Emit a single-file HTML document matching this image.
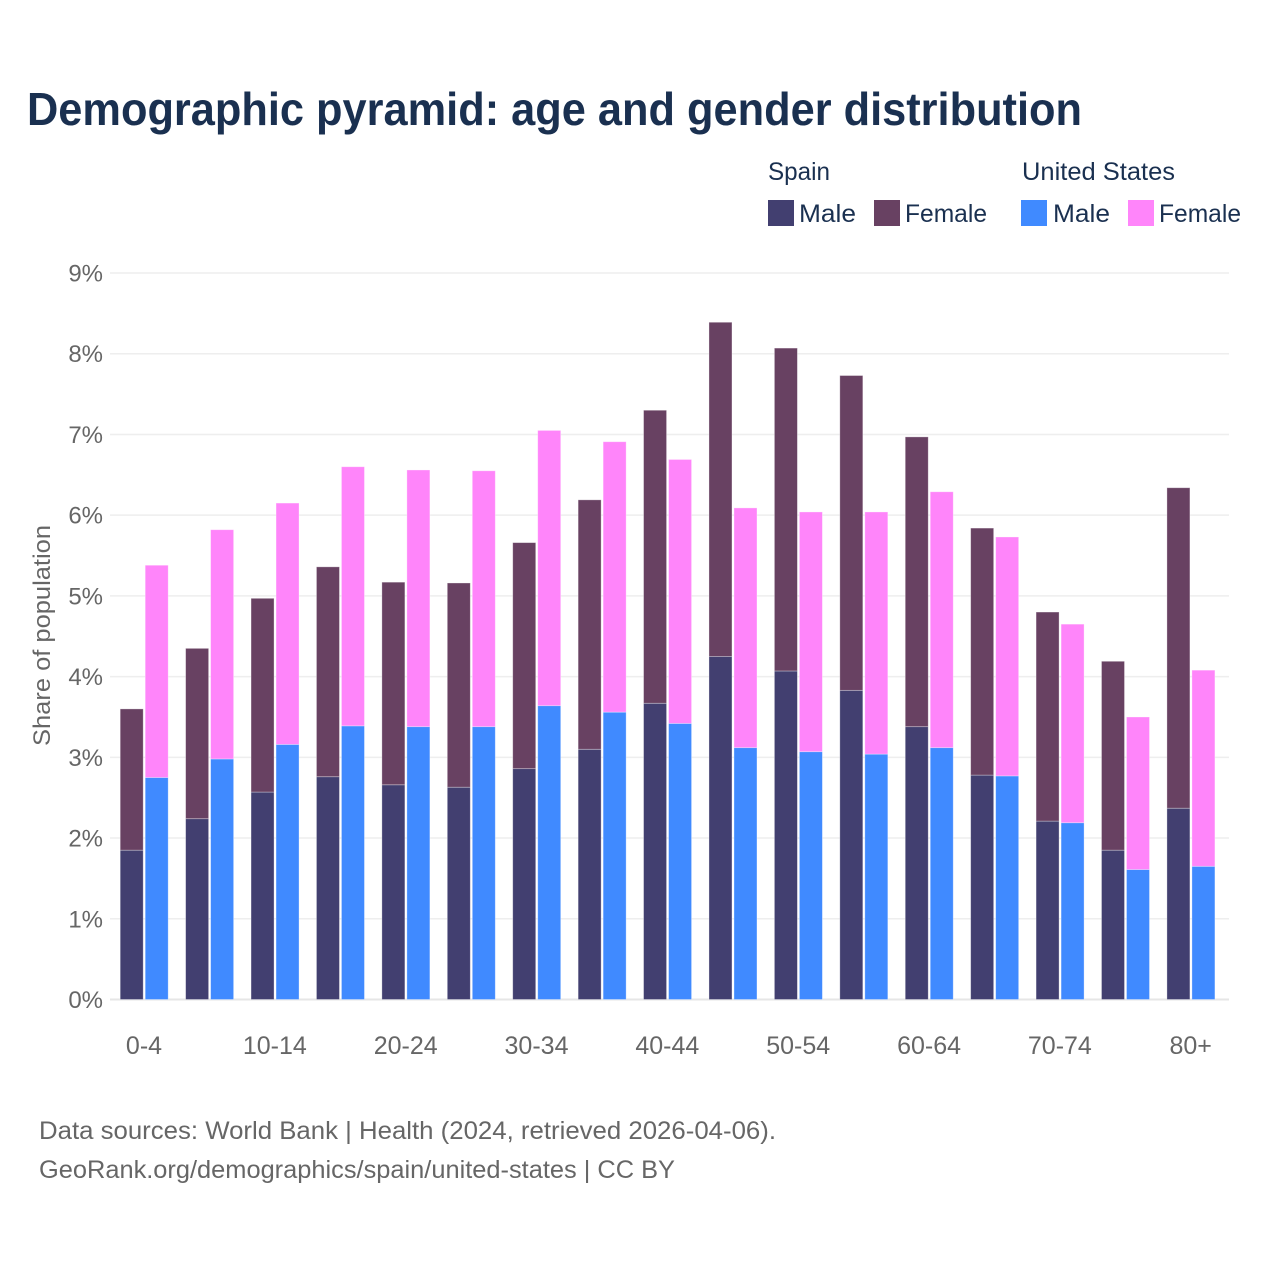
<!DOCTYPE html>
<html lang="en">
<head>
<meta charset="utf-8">
<title>Demographic pyramid</title>
<style>
html,body{margin:0;padding:0;background:#fff;width:1280px;height:1280px;overflow:hidden}
svg{display:block}
text{font-family:"Liberation Sans",sans-serif}
</style>
</head>
<body>
<svg id="chart" xmlns="http://www.w3.org/2000/svg" width="1280" height="1280" viewBox="0 0 1280 1280">
  <rect width="1280" height="1280" fill="#ffffff"/>
  <text x="27" y="125" font-size="46" font-weight="700" fill="#1a3050" textLength="1055" lengthAdjust="spacingAndGlyphs">Demographic pyramid: age and gender distribution</text>

  <g font-size="25" fill="#1a3050">
    <text x="768" y="180" textLength="62" lengthAdjust="spacingAndGlyphs">Spain</text>
    <text x="1022" y="180" textLength="153" lengthAdjust="spacingAndGlyphs">United States</text>
    <rect x="768" y="200" width="26" height="26" fill="#423f70"/>
    <text x="799" y="222" textLength="57" lengthAdjust="spacingAndGlyphs">Male</text>
    <rect x="874" y="200" width="26" height="26" fill="#684162"/>
    <text x="905" y="222" textLength="82" lengthAdjust="spacingAndGlyphs">Female</text>
    <rect x="1021" y="200" width="26" height="26" fill="#408aff"/>
    <text x="1053" y="222" textLength="57" lengthAdjust="spacingAndGlyphs">Male</text>
    <rect x="1128" y="200" width="26" height="26" fill="#ff85fa"/>
    <text x="1159" y="222" textLength="82" lengthAdjust="spacingAndGlyphs">Female</text>
  </g>

  <g id="grid"></g>
  <g id="yticks" font-size="24" fill="#666666" text-anchor="end"></g>
  <g id="bars"></g>
  <g id="xticks" font-size="25" fill="#666666" text-anchor="middle"></g>

  <text transform="translate(50,635.5) rotate(-90)" text-anchor="middle" font-size="24" fill="#666666" textLength="221" lengthAdjust="spacingAndGlyphs">Share of population</text>

  <text x="39" y="1139" font-size="25" fill="#666666" textLength="737" lengthAdjust="spacingAndGlyphs">Data sources: World Bank | Health (2024, retrieved 2026-04-06).</text>
  <text x="39" y="1178" font-size="25" fill="#666666" textLength="636" lengthAdjust="spacingAndGlyphs">GeoRank.org/demographics/spain/united-states | CC BY</text>
</svg>
<script>
const categories = ["0-4","5-9","10-14","15-19","20-24","25-29","30-34","35-39","40-44","45-49","50-54","55-59","60-64","65-69","70-74","75-79","80+"];
const spainMale = [1.85,2.24,2.57,2.76,2.66,2.63,2.86,3.10,3.67,4.25,4.07,3.83,3.38,2.78,2.21,1.85,2.37];
const spainFemale = [1.75,2.11,2.40,2.60,2.51,2.53,2.80,3.09,3.63,4.14,4.00,3.90,3.59,3.06,2.59,2.34,3.97];
const usMale = [2.75,2.98,3.16,3.39,3.38,3.38,3.64,3.56,3.42,3.12,3.07,3.04,3.12,2.77,2.19,1.61,1.65];
const usFemale = [2.63,2.84,2.99,3.21,3.18,3.17,3.41,3.35,3.27,2.97,2.97,3.00,3.17,2.96,2.46,1.89,2.43];
const yTickValues = [0,1,2,3,4,5,6,7,8,9];

const SVG_NS = "http://www.w3.org/2000/svg";
const yScale = v => 999.5 - v * 80.72;
const xCenter = i => 144.2 + i * 65.42;
const BAR_WIDTH = 23;
const BAR_OFFSET = 12.5;

function make(tag, attrs, parent) {
  const el = document.createElementNS(SVG_NS, tag);
  for (const k in attrs) el.setAttribute(k, attrs[k]);
  parent.appendChild(el);
  return el;
}

const grid = document.getElementById("grid");
const yticks = document.getElementById("yticks");
yTickValues.forEach(v => {
  const line = make("line", {x1: 110, x2: 1229, y1: yScale(v), y2: yScale(v), stroke: v === 0 ? "#e6e6e6" : "#eeeeee", "stroke-width": v === 0 ? 2 : 1.5}, grid);
  
  
  const label = make("text", {x: 103, y: yScale(v) + 8.5}, yticks);
  label.textContent = v + "%";
  
  
});

const bars = document.getElementById("bars");
function drawBar(x, bottom, value, fill, name) {
  const rect = make("rect", {
    x: x,
    y: yScale(bottom + value),
    width: BAR_WIDTH,
    height: yScale(bottom) - yScale(bottom + value),
    fill: fill,
    stroke: "rgba(255,255,255,0.4)",
    "stroke-width": 0.8
  }, bars);
  
  
}
categories.forEach((cat, i) => {
  const cx = xCenter(i);
  const xSpain = cx - BAR_OFFSET - BAR_WIDTH / 2;
  const xUs = cx + BAR_OFFSET - BAR_WIDTH / 2;
  drawBar(xSpain, 0, spainMale[i], "#423f70", "bar-spain-male-" + cat);
  drawBar(xSpain, spainMale[i], spainFemale[i], "#684162", "bar-spain-female-" + cat);
  drawBar(xUs, 0, usMale[i], "#408aff", "bar-us-male-" + cat);
  drawBar(xUs, usMale[i], usFemale[i], "#ff85fa", "bar-us-female-" + cat);
});

const xticks = document.getElementById("xticks");
categories.forEach((cat, i) => {
  if (i % 2 !== 0) return;
  const label = make("text", {x: xCenter(i) - 0.2, y: 1054}, xticks);
  label.textContent = cat;
  
  
});
</script>
</body>
</html>
